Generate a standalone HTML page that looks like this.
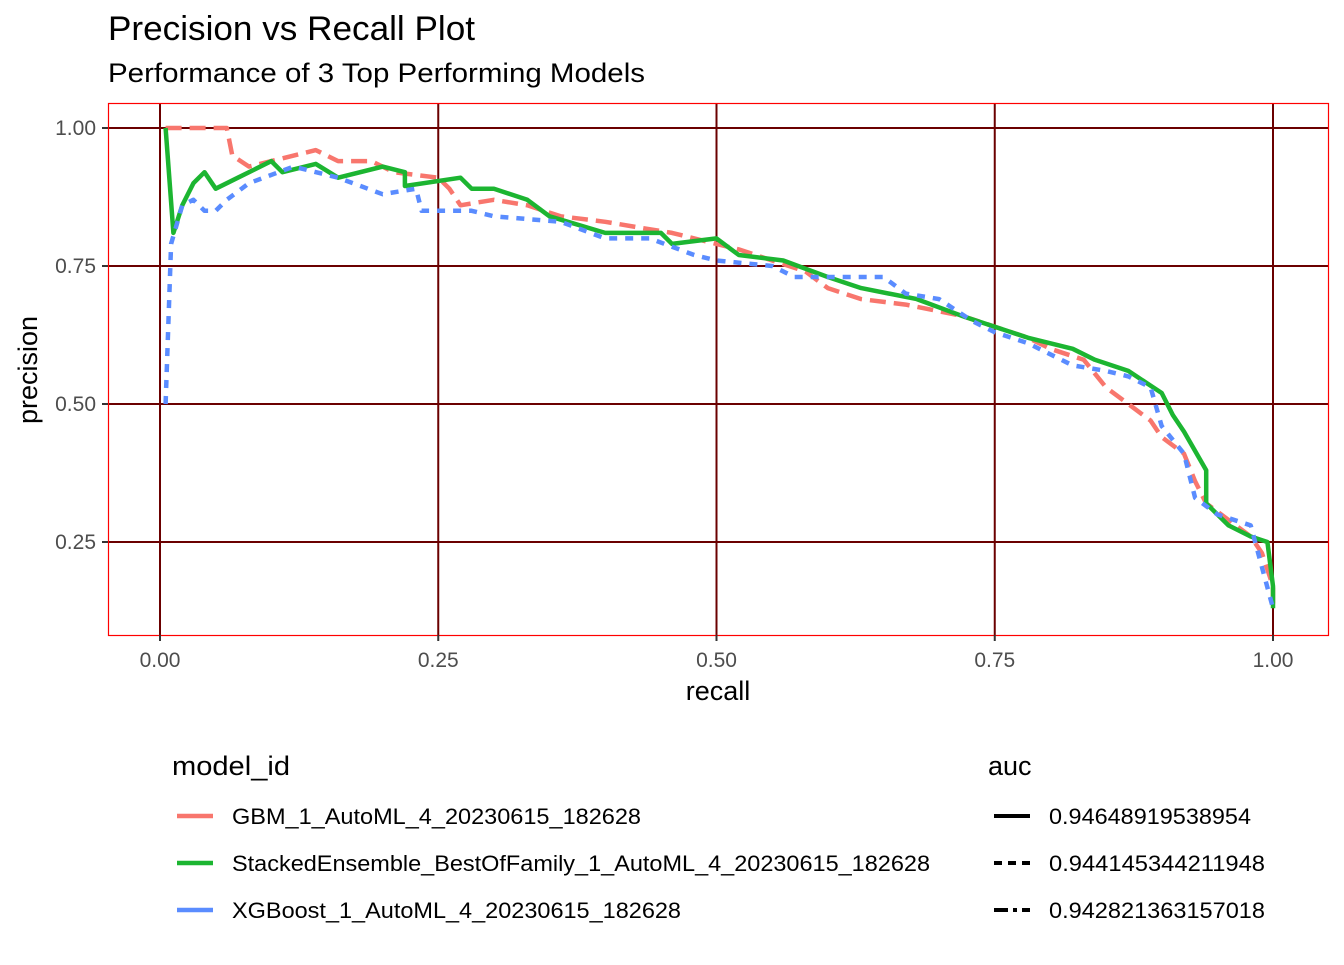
<!DOCTYPE html>
<html><head><meta charset="utf-8"><style>
body{margin:0;background:#fff;font-family:"Liberation Sans",Arial,sans-serif}
svg text{font-family:"Liberation Sans",Arial,sans-serif}
</style></head><body>
<svg id="c" width="1344" height="960" viewBox="0 0 1344 960">
<text x="108" y="40" font-size="34" textLength="367" lengthAdjust="spacingAndGlyphs" fill="#000">Precision vs Recall Plot</text>
<text x="108" y="82" font-size="27" textLength="537" lengthAdjust="spacingAndGlyphs" fill="#000">Performance of 3 Top Performing Models</text>
<g id="grid"></g>
<g id="lines"></g>
<rect x="108.5" y="103.5" width="1220" height="532" fill="none" stroke="#ff0000" stroke-width="1.2"/>
<g id="axes"></g>
<text x="718" y="700" font-size="27" text-anchor="middle">recall</text>
<text transform="translate(37,370) rotate(-90)" font-size="27" text-anchor="middle">precision</text>
<text x="172" y="775" font-size="27" textLength="118" lengthAdjust="spacingAndGlyphs">model_id</text>
<text x="988" y="775" font-size="27">auc</text>
<g id="legend"></g>
</svg>
<script>
const xTicks=[0,0.25,0.5,0.75,1.0];
const xTickLabels=["0.00","0.25","0.50","0.75","1.00"];
const yTicks=[0.25,0.5,0.75,1.0];
const yTickLabels=["0.25","0.50","0.75","1.00"];
const modelNames=["GBM_1_AutoML_4_20230615_182628","StackedEnsemble_BestOfFamily_1_AutoML_4_20230615_182628","XGBoost_1_AutoML_4_20230615_182628"];
const aucLabels=["0.94648919538954","0.944145344211948","0.942821363157018"];
const gbmRecall=[0.005,0.06,0.065,0.08,0.10,0.14,0.16,0.19,0.21,0.25,0.26,0.27,0.30,0.33,0.36,0.40,0.43,0.46,0.50,0.52,0.55,0.58,0.60,0.63,0.67,0.72,0.75,0.78,0.80,0.83,0.85,0.87,0.89,0.90,0.92,0.93,0.94,0.96,0.98,0.99,1.0,1.0];
const gbmPrecision=[1.0,1.0,0.95,0.93,0.94,0.96,0.94,0.94,0.92,0.91,0.89,0.86,0.87,0.86,0.84,0.83,0.82,0.81,0.79,0.78,0.76,0.74,0.71,0.69,0.68,0.66,0.64,0.62,0.60,0.58,0.53,0.50,0.47,0.44,0.41,0.36,0.32,0.29,0.26,0.23,0.17,0.13];
const seRecall=[0.005,0.012,0.02,0.03,0.04,0.05,0.07,0.10,0.11,0.14,0.16,0.20,0.22,0.22,0.27,0.28,0.30,0.33,0.35,0.40,0.45,0.46,0.50,0.52,0.56,0.60,0.63,0.68,0.72,0.75,0.78,0.80,0.82,0.84,0.87,0.90,0.91,0.92,0.94,0.94,0.96,0.98,0.995,1.0,1.0];
const sePrecision=[1.0,0.81,0.86,0.90,0.92,0.89,0.91,0.94,0.92,0.935,0.91,0.93,0.92,0.895,0.91,0.89,0.89,0.87,0.84,0.81,0.81,0.79,0.80,0.77,0.76,0.73,0.71,0.69,0.66,0.64,0.62,0.61,0.60,0.58,0.56,0.52,0.48,0.45,0.38,0.32,0.28,0.26,0.25,0.17,0.13];
const xgbRecall=[0.005,0.01,0.02,0.03,0.04,0.05,0.06,0.08,0.12,0.16,0.20,0.23,0.235,0.28,0.30,0.36,0.40,0.44,0.48,0.50,0.55,0.57,0.60,0.65,0.67,0.70,0.73,0.75,0.78,0.82,0.85,0.87,0.89,0.90,0.92,0.93,0.95,0.98,1.0];
const xgbPrecision=[0.5,0.79,0.86,0.87,0.85,0.85,0.87,0.90,0.93,0.91,0.88,0.89,0.85,0.85,0.84,0.83,0.80,0.80,0.77,0.76,0.75,0.73,0.73,0.73,0.70,0.69,0.65,0.63,0.61,0.57,0.56,0.55,0.53,0.46,0.41,0.33,0.30,0.28,0.13];
const NS="http://www.w3.org/2000/svg";
const X=v=>160+v*(1273-160);
const Y=v=>128+(1-v)*(542-128)/0.75;
function mk(t,a,p){const e=document.createElementNS(NS,t);for(const k in a)e.setAttribute(k,a[k]);p.appendChild(e);return e;}
const grid=document.getElementById('grid'),axes=document.getElementById('axes'),lines=document.getElementById('lines'),leg=document.getElementById('legend');
xTicks.forEach((t,i)=>{
 const l=mk('line',{x1:X(t),x2:X(t),y1:103,y2:635,stroke:'#6b0000','stroke-width':2},grid);
 
 const tk=mk('line',{x1:X(t),x2:X(t),y1:635,y2:641,stroke:'#333','stroke-width':2},axes);
 
 const tx=mk('text',{x:X(t),y:667,'font-size':21,fill:'#4d4d4d','text-anchor':'middle'},axes);tx.textContent=xTickLabels[i];
 
});
yTicks.forEach((t,i)=>{
 const l=mk('line',{x1:108,x2:1328,y1:Y(t),y2:Y(t),stroke:'#6b0000','stroke-width':2},grid);
 
 const tk=mk('line',{x1:102,x2:108,y1:Y(t),y2:Y(t),stroke:'#333','stroke-width':2},axes);
 
 const tx=mk('text',{x:96,y:Y(t)+7,'font-size':21,fill:'#4d4d4d','text-anchor':'end'},axes);tx.textContent=yTickLabels[i];
 
});
const series=[
 {r:gbmRecall,p:gbmPrecision,c:'#f8766d',d:'16 8',n:'gbm-line'},
 {r:seRecall,p:sePrecision,c:'#1cb531',d:'',n:'stacked-ensemble-line'},
 {r:xgbRecall,p:xgbPrecision,c:'#5a8cff',d:'8 8',n:'xgboost-line'}];
series.forEach(s=>{
 const pts=s.r.map((r,i)=>X(r).toFixed(1)+','+Y(s.p[i]).toFixed(1)).join(' ');
 const a={points:pts,fill:'none',stroke:s.c,'stroke-width':4.5,'stroke-linejoin':'round'};
 if(s.d)a['stroke-dasharray']=s.d;
 const pl=mk('polyline',a,lines);
 
});
const legCols=['#f8766d','#1cb531','#5a8cff'];
const aucDash=['','8 6','14 5 4 5'];
const nameLens=[409,698,449];
const aucLens=[202,216,216];
modelNames.forEach((m,i)=>{
 const y=816+i*47;
 const l=mk('line',{x1:177,x2:213,y1:y,y2:y,stroke:legCols[i],'stroke-width':4.5},leg);
 
 const t=mk('text',{x:232,y:y+8,'font-size':22,textLength:nameLens[i],lengthAdjust:'spacingAndGlyphs'},leg);t.textContent=m;
 
 const a={x1:994,x2:1030,y1:y,y2:y,stroke:'#000','stroke-width':4};if(aucDash[i])a['stroke-dasharray']=aucDash[i];
 const l2=mk('line',a,leg);
 
 const t2=mk('text',{x:1049,y:y+8,'font-size':22,textLength:aucLens[i],lengthAdjust:'spacingAndGlyphs'},leg);t2.textContent=aucLabels[i];
 
});
</script>
</body></html>
